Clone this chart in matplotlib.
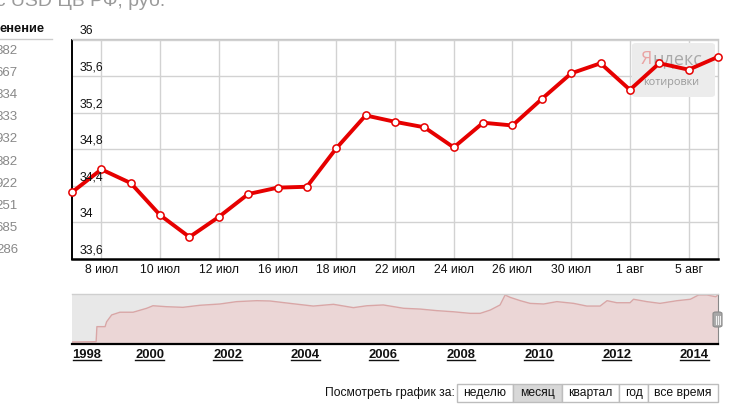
import matplotlib
matplotlib.use("Agg")
import matplotlib.pyplot as plt
from matplotlib.patches import FancyBboxPatch, Rectangle
from matplotlib.lines import Line2D
import matplotlib.transforms as mtransforms

plt.rcParams['font.family'] = ['Liberation Sans', 'DejaVu Sans']

# ---------------- data ----------------
dates = ["5 июл", "8 июл", "9 июл", "10 июл", "11 июл", "12 июл", "15 июл", "16 июл",
         "17 июл", "18 июл", "19 июл", "22 июл", "23 июл", "24 июл", "25 июл", "26 июл",
         "29 июл", "30 июл", "31 июл", "1 авг", "2 авг", "5 авг", "6 авг"]
rates = [34.33, 34.58, 34.43, 34.08, 33.84, 34.06, 34.31, 34.38, 34.39, 34.81, 35.17,
         35.10, 35.04, 34.82, 35.09, 35.06, 35.35, 35.63, 35.74, 35.45, 35.74, 35.67, 35.81]
y_ticks = [33.6, 34.0, 34.4, 34.8, 35.2, 35.6, 36.0]
y_tick_labels = ["33,6", "34", "34,4", "34,8", "35,2", "35,6", "36"]

nav_years = [1998.00, 1998.62, 1998.64, 1998.85, 1998.89, 1999.02, 1999.23, 1999.57, 1999.92,
             2000.08, 2000.43, 2000.85, 2001.29, 2001.80, 2002.23, 2002.75, 2003.09, 2003.60,
             2004.20, 2004.72, 2005.23, 2005.58, 2006.00, 2006.52, 2006.95, 2007.38, 2007.80,
             2008.23, 2008.49, 2008.75, 2009.00, 2009.13, 2009.26, 2009.52, 2009.77, 2010.12,
             2010.46, 2010.89, 2011.23, 2011.57, 2011.75, 2012.00, 2012.34, 2012.43, 2012.77,
             2013.11, 2013.55, 2013.89, 2014.10, 2014.32, 2014.54, 2014.60]
nav_rates = [6.0, 6.2, 15.7, 15.7, 18.8, 23.1, 24.8, 24.8, 27.3,
             28.9, 28.3, 27.9, 29.2, 30.0, 31.5, 32.1, 31.9, 30.4,
             28.7, 29.8, 27.7, 28.9, 29.4, 27.3, 26.8, 25.8, 25.1,
             24.1, 24.1, 26.2, 29.4, 35.7, 34.2, 32.1, 30.4, 30.0,
             31.5, 30.4, 28.7, 28.7, 32.1, 30.8, 30.8, 33.0, 31.5,
             30.4, 32.1, 33.0, 35.7, 35.7, 34.6, 35.7]
nav_year_labels = [1998, 2000, 2002, 2004, 2006, 2008, 2010, 2012, 2014]

table_header = "енение"
table_values = ["382", "667", "834", "833", "932", "882", "922", "251", "685", "286"]

period_caption = "Посмотреть график за:"
period_buttons = ["неделю", "месяц", "квартал", "год", "все время"]
active_button = "месяц"

# ---------------- figure ----------------
W, H = 733, 419
fig = plt.figure(figsize=(W / 100, H / 100), dpi=100)


def fx(px):
    return px / W


def fy(py):
    return 1 - py / H


# title (cut off at top)
fig.text(fx(165), fy(6), "Курс USD ЦБ РФ, руб.", ha="right", va="baseline",
         fontsize=14, color="#9a9a9a")

# left table fragment
fig.text(fx(0), fy(29.5), table_header, ha="left", va="center", fontsize=9.3,
         fontweight="bold", color="#111111")
fig.add_artist(Line2D([0, fx(52)], [fy(39.5), fy(39.5)], color="#cccccc", lw=1))
for i, v in enumerate(table_values):
    fig.text(fx(18), fy(51 + i * 22.1), v, ha="right", va="center", fontsize=9.5,
             color="#888888")

# ---------------- main chart ----------------
ax = fig.add_axes([fx(72), fy(259), fx(718) - fx(72), fy(39.5) - fy(259)])
n = len(rates)
xs = list(range(n))
ax.set_xlim(0, n - 1)
ax.set_ylim(y_ticks[0], y_ticks[-1])

label_idx = list(range(1, n, 2))
ax.set_xticks(label_idx)
ax.set_xticklabels([dates[i] for i in label_idx], fontsize=8.8, color="#111111")
ax.tick_params(axis="x", length=0, pad=3.5)
ax.set_yticks(y_ticks)
ax.set_yticklabels([])
ax.tick_params(axis="y", length=0)
ax.grid(True, color="#d2d2d2", lw=1, zorder=0)
ax.set_axisbelow(True)

for sp in ["top", "right"]:
    ax.spines[sp].set_color("#c8c8c8")
    ax.spines[sp].set_linewidth(1)
ax.spines["left"].set_color("#000000")
ax.spines["left"].set_linewidth(1.4)
ax.spines["bottom"].set_color("#000000")
ax.spines["bottom"].set_linewidth(1.8)

trans = mtransforms.blended_transform_factory(ax.transAxes, ax.transData)
for v, lab in zip(y_ticks, y_tick_labels):
    ax.annotate(lab, xy=(0, v), xycoords=trans, xytext=(5.5, 3.8),
                textcoords="offset points", ha="left", va="baseline",
                fontsize=8.8, color="#111111", annotation_clip=False, zorder=5)

# Yandex watermark
wm = FancyBboxPatch((fx(632), fy(97)), fx(715) - fx(632), fy(43) - fy(97),
                    boxstyle="round,pad=0,rounding_size=0.006",
                    transform=fig.transFigure, facecolor="#ececec", edgecolor="none",
                    zorder=1.5)
ax.add_patch(wm)
wm_font = ["Open Sans", "DejaVu Sans"]
ya = ax.text(fx(641), fy(59), "Я", transform=fig.transFigure, ha="left", va="center",
             fontsize=13, color="#e9a3a3", family=wm_font, zorder=1.7)
ax.text(fx(671.5), fy(83), "котировки", transform=fig.transFigure, ha="center",
        va="center", fontsize=7.8, color="#9a9a9a", family=wm_font, zorder=1.6)

ax.plot(xs, rates, color="#e60000", lw=2.8, zorder=3, solid_joinstyle="miter",
        clip_on=False)
ax.plot(xs, rates, linestyle="none", marker="o", markersize=5.2,
        markerfacecolor="white", markeredgecolor="#e60000", markeredgewidth=1.1,
        zorder=4, clip_on=False)

# ---------------- navigator ----------------
ax2 = fig.add_axes([fx(72), fy(344), fx(718) - fx(72), fy(294.3) - fy(344)])
ax2.set_facecolor("#e8e8e8")
ax2.set_xlim(1998, 2014.6)
ax2.set_ylim(4.74, 36.13)
ax2.fill_between(nav_years, nav_rates, 4.74, color="#ebd6d6", lw=0)
ax2.plot(nav_years, nav_rates, color="#d9a6a6", lw=1)
ax2.set_xticks([])
ax2.set_yticks([])
ax2.spines["left"].set_visible(False)
ax2.spines["right"].set_color("#888888")
ax2.spines["right"].set_linewidth(0.8)
ax2.spines["top"].set_color("#cfcfcf")
ax2.spines["top"].set_linewidth(1)
ax2.spines["bottom"].set_color("#000000")
ax2.spines["bottom"].set_linewidth(1.6)

# handle
hd = FancyBboxPatch((fx(713), fy(327)), fx(722) - fx(713), fy(312) - fy(327),
                    boxstyle="round,pad=0,rounding_size=0.004",
                    transform=fig.transFigure, facecolor="#a8a8a8", edgecolor="#8a8a8a",
                    lw=0.8)
fig.add_artist(hd)
for hx in [715.5, 717.5, 719.5]:
    fig.add_artist(Line2D([fx(hx), fx(hx)], [fy(323.5), fy(315.5)], color="#f2f2f2",
                          lw=0.8))

# year labels (links)
px_per_year = 38.9
year_texts = []
for yr in nav_year_labels:
    if yr == nav_year_labels[0]:
        t = fig.text(fx(72.5), fy(354.5), str(yr), ha="left", va="center", fontsize=9.4,
                     fontweight="bold", color="#111111")
    else:
        t = fig.text(fx(72 + (yr - 1998) * px_per_year), fy(354.5), str(yr), ha="center",
                     va="center", fontsize=9.4, fontweight="bold", color="#111111")
    year_texts.append(t)

fig.canvas.draw()
r = fig.canvas.get_renderer()
for t in year_texts:
    bb = t.get_window_extent(r)
    fig.add_artist(Line2D([bb.x0 / W, bb.x1 / W], [fy(360), fy(360)],
                          color="#111111", lw=1))

# rest of the Yandex word, placed right after the red letter
yb = ya.get_window_extent(r)
ax.text(yb.x1 / W, fy(59), "ндекс", transform=fig.transFigure, ha="left", va="center",
        fontsize=13, color="#a9a9a9", family=wm_font, zorder=1.6)

# period buttons
edges = [456.7, 513.3, 561.7, 619.0, 648.3, 717.7]
btop, bbot = 383.7, 401.7
fig.text(fx(455), fy(392.5), period_caption, ha="right", va="center", fontsize=8.7,
         color="#111111")
for i, lab in enumerate(period_buttons):
    x0, x1 = edges[i], edges[i + 1]
    fc = "#d8d8d8" if lab == active_button else "white"
    fig.add_artist(Rectangle((fx(x0), fy(bbot)), fx(x1) - fx(x0), fy(btop) - fy(bbot),
                             transform=fig.transFigure, facecolor=fc,
                             edgecolor="#bdbdbd", lw=1))
    fig.text(fx((x0 + x1) / 2), fy(392.5), lab, ha="center", va="center", fontsize=8.7,
             color="#111111")

fig.savefig("out.png", dpi=100)
